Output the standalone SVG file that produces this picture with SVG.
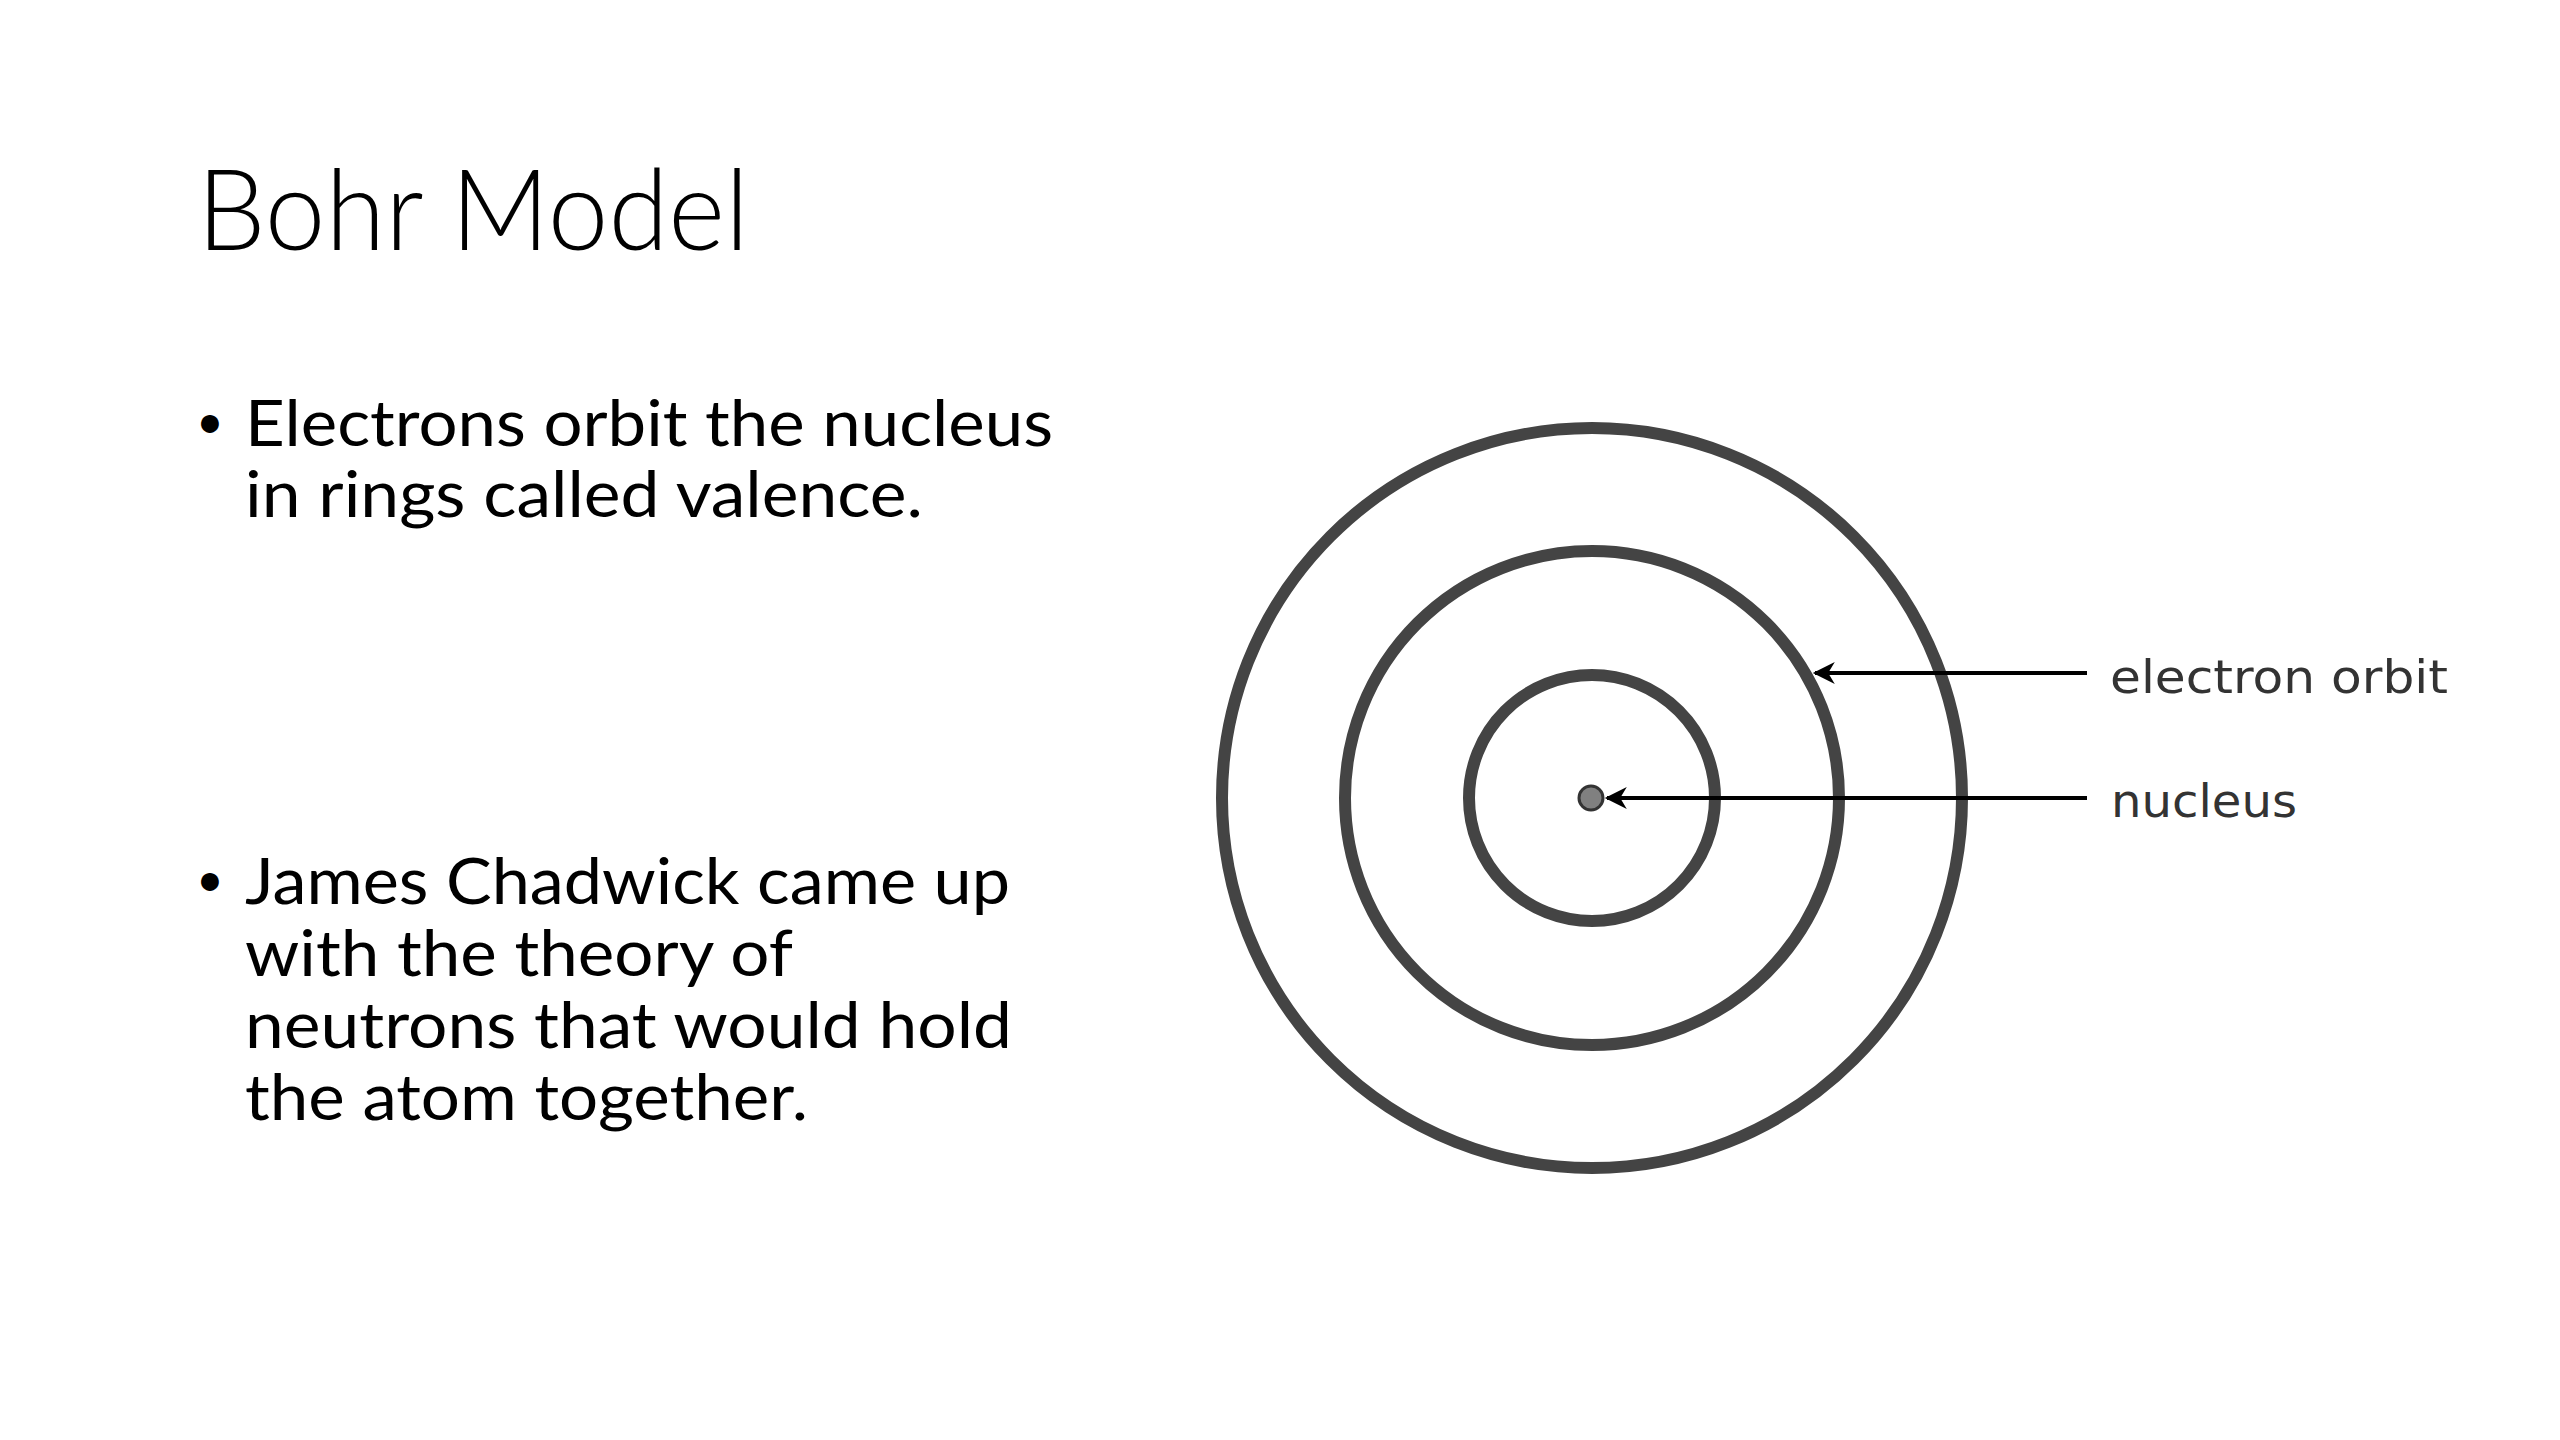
<svg xmlns="http://www.w3.org/2000/svg" width="2560" height="1440" viewBox="0 0 2560 1440">
<style>
.title{font-family:Lato,"Open Sans","Liberation Sans",sans-serif;font-weight:300;font-size:112px;fill:#000}
.body{font-family:Lato,"Open Sans","Liberation Sans",sans-serif;font-size:64px;fill:#000}
.dot{font-family:Lato,"Open Sans","Liberation Sans",sans-serif;font-size:48px;fill:#000}
.orbit{fill:none;stroke:#444;stroke-width:12}
.lbl{font-family:"DejaVu Sans","Liberation Sans",sans-serif;font-size:46px;fill:#333}
.arrow{stroke:#000;stroke-width:4;fill:none;marker-end:url(#ah)}
</style>
<defs>
<marker id="ah" viewBox="0 0 10 10" refX="9" refY="5" markerWidth="6.5" markerHeight="5.5" orient="auto" markerUnits="strokeWidth">
<path d="M0,0 L10,5 L0,10 L3,5 z" fill="#000"/>
</marker>
</defs>
<rect width="2560" height="1440" fill="#fff"/>
<g id="title"><text class="title" x="197" y="250" textLength="552" lengthAdjust="spacingAndGlyphs">Bohr Model</text></g>
<g id="bullet1">
<text class="dot" x="196" y="438">•</text>
<text class="body" x="245" y="446" textLength="808" lengthAdjust="spacingAndGlyphs">Electrons orbit the nucleus</text>
<text class="body" x="245" y="517" textLength="678" lengthAdjust="spacingAndGlyphs">in rings called valence.</text>
</g>
<g id="bullet2">
<text class="dot" x="196" y="896">•</text>
<text class="body" x="245" y="904" textLength="765" lengthAdjust="spacingAndGlyphs">James Chadwick came up</text>
<text class="body" x="245" y="976" textLength="548" lengthAdjust="spacingAndGlyphs">with the theory of</text>
<text class="body" x="245" y="1048" textLength="767" lengthAdjust="spacingAndGlyphs">neutrons that would hold</text>
<text class="body" x="245" y="1120" textLength="563" lengthAdjust="spacingAndGlyphs">the atom together.</text>
</g>
<g id="atom">
<circle class="orbit" cx="1592" cy="798" r="370"/>
<circle class="orbit" cx="1592" cy="798" r="247"/>
<circle class="orbit" cx="1592" cy="798" r="123"/>
<circle id="nucleus-dot" cx="1591" cy="798" r="12" fill="#808080" stroke="#333" stroke-width="3"/>
</g>
<g id="connectors">
<line class="arrow" x1="2087" y1="673" x2="1815" y2="673"/>
<line class="arrow" x1="2087" y1="798" x2="1607" y2="798"/>
</g>
<g id="label-electron-orbit"><text class="lbl" x="2110" y="693" textLength="338" lengthAdjust="spacingAndGlyphs">electron orbit</text></g>
<g id="label-nucleus"><text class="lbl" x="2111" y="817" textLength="186" lengthAdjust="spacingAndGlyphs">nucleus</text></g>
</svg>
